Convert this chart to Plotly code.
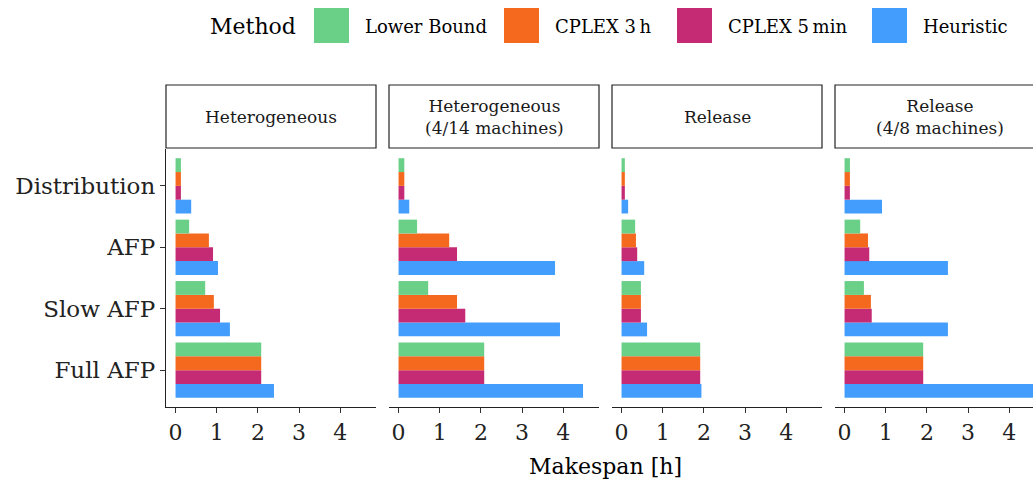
import plotly.graph_objects as go

# ---------------- data ----------------
panels = ["Heterogeneous", "Heterogeneous<br>(4/14 machines)", "Release", "Release<br>(4/8 machines)"]
categories = ["Distribution", "AFP", "Slow AFP", "Full AFP"]
methods = ["Lower Bound", "CPLEX 3\u2009h", "CPLEX 5\u2009min", "Heuristic"]

# values per panel, in category order (Distribution, AFP, Slow AFP, Full AFP), hours
lower_bound = [[0.13, 0.33, 0.72, 2.08], [0.14, 0.45, 0.72, 2.08], [0.08, 0.33, 0.47, 1.91], [0.13, 0.38, 0.47, 1.91]]
cplex_3h    = [[0.13, 0.81, 0.93, 2.08], [0.14, 1.23, 1.42, 2.08], [0.08, 0.35, 0.47, 1.91], [0.13, 0.57, 0.64, 1.91]]
cplex_5min  = [[0.13, 0.91, 1.08, 2.08], [0.14, 1.42, 1.62, 2.08], [0.08, 0.38, 0.47, 1.91], [0.13, 0.60, 0.66, 1.91]]
heuristic   = [[0.38, 1.03, 1.32, 2.39], [0.26, 3.80, 3.92, 4.48], [0.16, 0.55, 0.62, 1.94], [0.91, 2.51, 2.51, 4.64]]

colors = ["#6ACF87", "#F4691E", "#C52A74", "#439DFD"]
x_ticks = [0, 1, 2, 3, 4]

# ---------------- layout geometry ----------------
W, H = 1033, 481
FONT = "DejaVu Serif"
panel_left = [166, 389, 612, 835]
panel_w = 210
top_px, bot_px = 149, 407
px_per_unit = 41.18
xmin = -0.232

series = [heuristic, cplex_5min, cplex_3h, lower_bound]
snames = [methods[3], methods[2], methods[1], methods[0]]
scolors = [colors[3], colors[2], colors[1], colors[0]]

fig = go.Figure()
for p in range(4):
    ax = "" if p == 0 else str(p + 1)
    for vals, name, col in zip(series, snames, scolors):
        fig.add_trace(go.Bar(
            y=categories, x=vals[p], orientation="h", name=name,
            marker=dict(color=col, line=dict(width=0)),
            xaxis="x" + ax, yaxis="y" + ax, showlegend=False,
        ))

layout = dict(
    width=W, height=H, margin=dict(l=0, r=0, t=0, b=0),
    paper_bgcolor="white", plot_bgcolor="white",
    barmode="group", bargap=0.1, bargroupgap=0,
    font=dict(family=FONT, color="black"),
    showlegend=False,
)
shapes = []
annotations = []
for p in range(4):
    ax = "" if p == 0 else str(p + 1)
    left = panel_left[p]
    right = min(left + panel_w, W)
    xmax = xmin + (right - left) / px_per_unit
    layout["xaxis" + ax] = dict(
        domain=[left / W, right / W], range=[xmin, xmax], anchor="y" + ax,
        tickvals=x_ticks, ticks="outside", ticklen=5, tickwidth=1, tickcolor="#333",
        showline=True, linecolor="#222", linewidth=1.3, showgrid=False, zeroline=False,
        tickfont=dict(size=22, family=FONT, color="#222"), automargin=False,
    )
    layout["yaxis" + ax] = dict(
        domain=[1 - bot_px / H, 1 - top_px / H], anchor="x" + ax,
        type="category", categoryorder="array", categoryarray=categories[::-1],
        range=[-0.6, 3.6], showgrid=False, zeroline=False,
        showline=(p == 0), linecolor="#222", linewidth=1.3,
        ticks="outside" if p == 0 else "", ticklen=5, tickwidth=1, tickcolor="#333",
        showticklabels=(p == 0), tickfont=dict(size=23, family=FONT, color="#222"),
        automargin=False,
    )
    # strip box
    shapes.append(dict(type="rect", xref="paper", yref="paper",
                       x0=left / W, x1=(left + panel_w) / W,
                       y0=1 - 148 / H, y1=1 - 85 / H,
                       line=dict(color="#222", width=1.2), fillcolor="white", layer="below"))
    annotations.append(dict(text=panels[p], xref="paper", yref="paper",
                            x=(left + panel_w / 2) / W, y=1 - 117 / H,
                            xanchor="center", yanchor="middle", showarrow=False,
                            font=dict(size=17, family=FONT, color="#1a1a1a")))

# axis title
annotations.append(dict(text="Makespan [h]", xref="paper", yref="paper",
                        x=605 / W, y=1 - 466 / H, xanchor="center", yanchor="middle",
                        showarrow=False, font=dict(size=22, family=FONT, color="black")))

# legend (manual, large keys)
annotations.append(dict(text="Method", xref="paper", yref="paper", x=208 / W, y=1 - 26 / H,
                        xanchor="left", yanchor="middle", showarrow=False,
                        font=dict(size=22, family=FONT, color="black")))
key_x = [314, 504, 677, 872]
for m, col, kx in zip(methods, colors, key_x):
    shapes.append(dict(type="rect", xref="paper", yref="paper",
                       x0=kx / W, x1=(kx + 35) / W, y0=1 - 43 / H, y1=1 - 8 / H,
                       line=dict(width=0), fillcolor=col))
    annotations.append(dict(text=m, xref="paper", yref="paper", x=(kx + 49) / W, y=1 - 26 / H,
                            xanchor="left", yanchor="middle", showarrow=False,
                            font=dict(size=18, family=FONT, color="black")))

layout["shapes"] = shapes
layout["annotations"] = annotations
fig.update_layout(**layout)
fig.write_html("out.html")
